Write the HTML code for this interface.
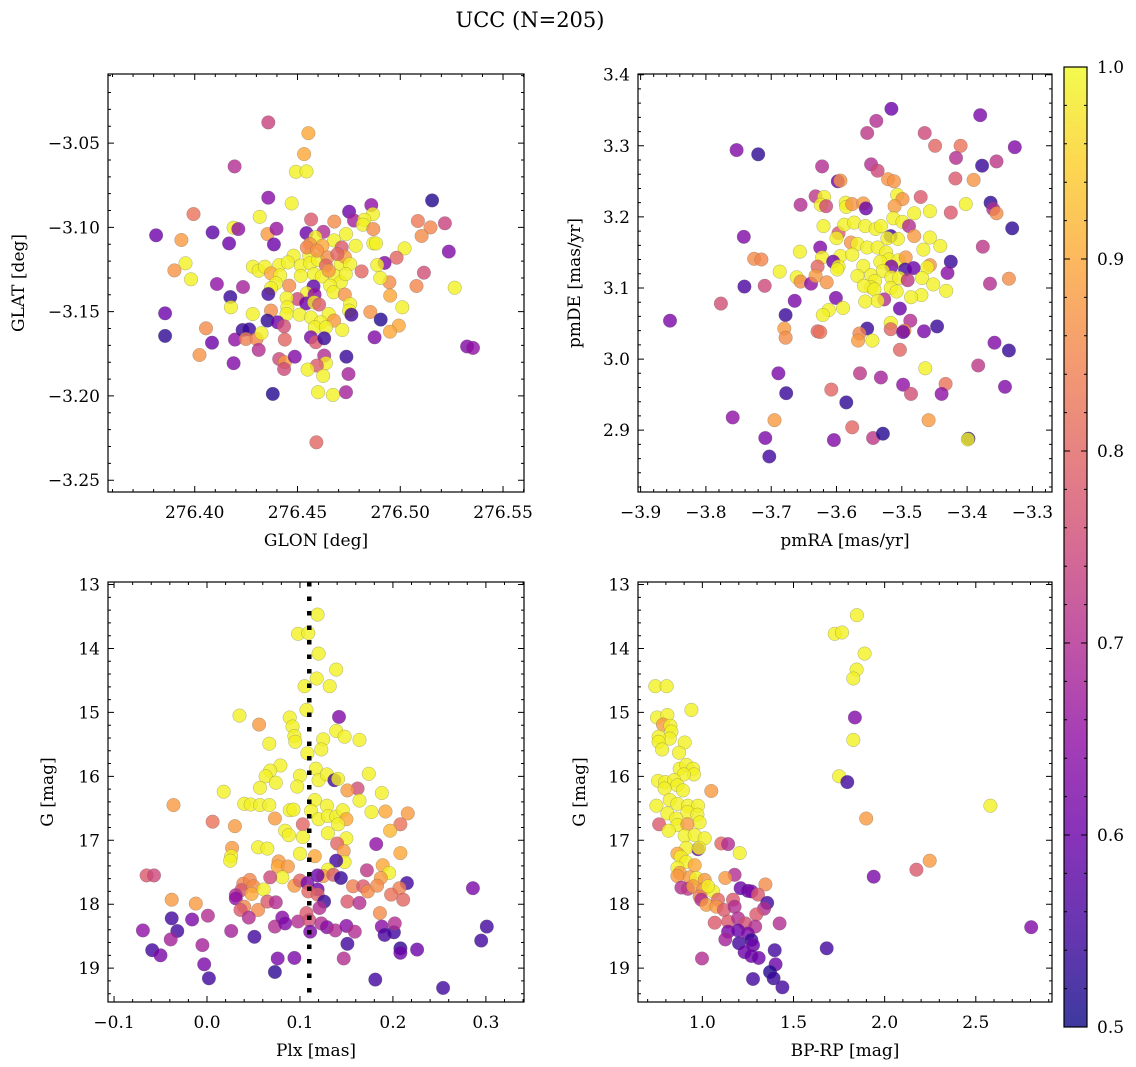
<!DOCTYPE html>
<html><head><meta charset="utf-8"><title>UCC (N=205)</title>
<style>
html,body{margin:0;padding:0;background:#fff;}
svg{display:block;font-family:"DejaVu Serif","Liberation Serif",serif;}
</style></head>
<body>
<svg id="fig" width="1136" height="1067" viewBox="0 0 1136 1067">
<text x="530" y="27" font-size="21" text-anchor="middle">UCC (N=205)</text>
</svg>
<script>
// ---------- Panel 1: GLON vs GLAT ----------
const p1Glon=[276.4358,276.4553,276.4532,276.4492,276.4544,276.4194,276.4358,276.4472,276.5155,276.3994,276.4316,276.4859,276.4751,276.4867,276.4566,276.4679,276.4775,276.4825,276.4818,276.5086,276.5217,276.5147,276.5104,276.3812,276.3935,276.4087,276.4189,276.4212,276.4167,276.4354,276.4398,276.4385,276.4544,276.4626,276.4587,276.4869,276.4869,276.4882,276.4736,276.4678,276.4715,276.4783,276.4561,276.4621,276.5021,276.5236,276.4982,276.4924,276.4888,276.3955,276.3901,276.3982,276.5115,276.5079,276.5265,276.4947,276.4903,276.4951,276.5010,276.4812,276.4108,276.4235,276.4173,276.4176,276.4283,276.4311,276.4341,276.4411,276.4371,276.4416,276.4395,276.4371,276.4358,276.4460,276.4481,276.4453,276.4516,276.4557,276.4562,276.4600,276.4646,276.4638,276.4516,276.4581,276.4618,276.4681,276.4710,276.4659,276.4710,276.4730,276.4756,276.4735,276.4578,276.4545,276.4583,276.4500,276.4447,276.4451,276.4447,276.4542,276.4581,276.4605,276.4675,276.4730,276.4756,276.4751,276.4762,276.4510,276.4565,276.4652,276.4678,276.4613,276.4584,276.4638,276.4718,276.4854,276.4905,276.4993,276.4950,276.4875,276.4282,276.4371,276.4354,276.4403,276.4435,276.4438,276.3856,276.3856,276.4055,276.4084,276.4023,276.4196,276.4233,276.4265,276.4249,276.4301,276.4325,276.4311,276.4189,276.4411,276.4438,276.4435,276.4487,276.4565,276.4589,276.4630,276.4630,276.4638,276.4594,276.4549,276.4625,276.4738,276.4748,276.4600,276.4672,276.4736,276.4380,276.4592,276.5325,276.5354,276.4545,276.4595,276.4652,276.4694];
const p1Glat=[-3.0377,-3.0441,-3.0565,-3.0670,-3.0668,-3.0638,-3.0824,-3.0858,-3.0840,-3.0921,-3.0937,-3.0868,-3.0907,-3.0921,-3.0953,-3.0966,-3.0960,-3.0955,-3.0984,-3.0962,-3.0976,-3.1000,-3.1051,-3.1047,-3.1075,-3.1030,-3.1002,-3.1010,-3.1095,-3.1040,-3.1008,-3.1101,-3.1034,-3.1026,-3.1059,-3.1010,-3.1095,-3.1095,-3.1040,-3.1077,-3.1119,-3.1109,-3.1099,-3.1109,-3.1125,-3.1144,-3.1180,-3.1211,-3.1223,-3.1213,-3.1255,-3.1308,-3.1269,-3.1348,-3.1358,-3.1326,-3.1300,-3.1405,-3.1474,-3.1261,-3.1336,-3.1354,-3.1413,-3.1474,-3.1233,-3.1257,-3.1233,-3.1223,-3.1273,-3.1285,-3.1332,-3.1360,-3.1395,-3.1346,-3.1168,-3.1208,-3.1227,-3.1168,-3.1213,-3.1194,-3.1178,-3.1227,-3.1287,-3.1277,-3.1291,-3.1287,-3.1326,-3.1346,-3.1217,-3.1174,-3.1217,-3.1277,-3.1350,-3.1391,-3.1399,-3.1425,-3.1419,-3.1474,-3.1514,-3.1451,-3.1445,-3.1458,-3.1385,-3.1399,-3.1455,-3.1494,-3.1518,-3.1518,-3.1534,-3.1514,-3.1553,-3.1563,-3.1593,-3.1593,-3.1609,-3.1502,-3.1547,-3.1583,-3.1619,-3.1652,-3.1514,-3.1494,-3.1553,-3.1563,-3.1587,-3.1666,-3.1510,-3.1644,-3.1599,-3.1684,-3.1757,-3.1666,-3.1609,-3.1605,-3.1662,-3.1662,-3.1628,-3.1727,-3.1806,-3.1781,-3.1800,-3.1840,-3.1767,-3.1652,-3.1681,-3.1658,-3.1761,-3.1806,-3.1820,-3.1844,-3.1881,-3.1767,-3.1870,-3.1978,-3.1994,-3.1978,-3.1988,-3.2275,-3.1707,-3.1715,-3.1119,-3.1138,-3.1257,-3.1158];
const p1Prob=[0.74,0.9,0.9,0.99,0.99,0.7,0.64,0.99,0.52,0.82,0.99,0.65,0.6,0.99,0.78,0.86,0.68,0.99,0.99,0.83,0.74,0.85,0.86,0.6,0.88,0.58,0.99,0.65,0.6,0.88,0.66,0.6,0.6,0.7,0.99,0.86,0.99,0.99,0.99,0.99,0.78,0.99,0.87,0.9,0.99,0.63,0.8,0.63,0.99,0.99,0.87,0.99,0.76,0.85,0.99,0.86,0.99,0.9,0.99,0.8,0.65,0.68,0.54,0.99,0.99,0.99,0.99,0.99,0.9,0.99,0.99,0.99,0.55,0.86,0.99,0.99,0.99,0.99,0.99,0.99,0.86,0.8,0.99,0.99,0.99,0.99,0.99,0.99,0.99,0.88,0.99,0.99,0.58,0.99,0.65,0.75,0.99,0.99,0.99,0.6,0.99,0.78,0.99,0.87,0.99,0.99,0.55,0.99,0.99,0.99,0.88,0.99,0.99,0.99,0.99,0.87,0.52,0.9,0.9,0.63,0.99,0.86,0.53,0.6,0.76,0.8,0.6,0.53,0.86,0.6,0.87,0.65,0.54,0.54,0.84,0.85,0.99,0.7,0.63,0.75,0.88,0.75,0.63,0.62,0.78,0.54,0.7,0.99,0.78,0.99,0.99,0.54,0.68,0.99,0.99,0.68,0.52,0.8,0.63,0.65,0.85,0.87,0.88,0.8];
const p1XTicks=[276.40,276.45,276.50,276.55];
const p1YTicks=[-3.05,-3.10,-3.15,-3.20,-3.25];

// ---------- Panel 2: pmRA vs pmDE ----------
const p2Pmra=[-3.516,-3.380,-3.539,-3.553,-3.465,-3.449,-3.410,-3.327,-3.753,-3.720,-3.417,-3.377,-3.355,-3.622,-3.547,-3.537,-3.418,-3.390,-3.598,-3.594,-3.521,-3.512,-3.655,-3.632,-3.619,-3.624,-3.616,-3.586,-3.585,-3.576,-3.559,-3.555,-3.507,-3.499,-3.471,-3.511,-3.402,-3.364,-3.360,-3.355,-3.425,-3.457,-3.481,-3.513,-3.499,-3.489,-3.331,-3.620,-3.742,-3.597,-3.600,-3.588,-3.573,-3.556,-3.540,-3.532,-3.517,-3.522,-3.506,-3.481,-3.457,-3.441,-3.467,-3.376,-3.578,-3.568,-3.553,-3.537,-3.625,-3.656,-3.622,-3.594,-3.576,-3.524,-3.520,-3.533,-3.505,-3.494,-3.726,-3.715,-3.605,-3.597,-3.599,-3.425,-3.516,-3.495,-3.482,-3.457,-3.461,-3.430,-3.336,-3.365,-3.629,-3.687,-3.661,-3.655,-3.639,-3.632,-3.615,-3.559,-3.568,-3.547,-3.529,-3.516,-3.504,-3.491,-3.469,-3.452,-3.432,-3.470,-3.486,-3.517,-3.508,-3.541,-3.547,-3.558,-3.542,-3.527,-3.537,-3.556,-3.741,-3.710,-3.777,-3.855,-3.664,-3.601,-3.590,-3.612,-3.621,-3.678,-3.680,-3.678,-3.503,-3.487,-3.517,-3.517,-3.553,-3.565,-3.567,-3.545,-3.629,-3.625,-3.496,-3.498,-3.466,-3.446,-3.503,-3.358,-3.336,-3.464,-3.383,-3.689,-3.677,-3.564,-3.532,-3.498,-3.486,-3.433,-3.439,-3.342,-3.608,-3.585,-3.459,-3.759,-3.695,-3.576,-3.544,-3.529,-3.398,-3.399,-3.709,-3.604,-3.703];
const p2Pmde=[3.352,3.343,3.335,3.318,3.318,3.300,3.300,3.298,3.294,3.288,3.283,3.272,3.278,3.271,3.274,3.265,3.254,3.252,3.250,3.251,3.253,3.250,3.217,3.229,3.228,3.217,3.215,3.220,3.214,3.218,3.219,3.212,3.231,3.225,3.228,3.215,3.218,3.220,3.211,3.205,3.206,3.208,3.205,3.198,3.193,3.187,3.184,3.187,3.172,3.177,3.170,3.189,3.192,3.187,3.183,3.187,3.173,3.170,3.169,3.173,3.171,3.159,3.154,3.158,3.164,3.162,3.157,3.157,3.157,3.151,3.143,3.145,3.147,3.150,3.140,3.137,3.139,3.143,3.141,3.140,3.137,3.130,3.126,3.137,3.130,3.126,3.128,3.132,3.129,3.121,3.113,3.106,3.130,3.123,3.115,3.109,3.106,3.117,3.108,3.131,3.117,3.118,3.124,3.115,3.114,3.111,3.114,3.105,3.096,3.090,3.087,3.100,3.095,3.110,3.101,3.103,3.098,3.084,3.082,3.081,3.102,3.103,3.078,3.054,3.082,3.086,3.072,3.069,3.062,3.062,3.043,3.030,3.071,3.054,3.051,3.042,3.043,3.036,3.026,3.026,3.039,3.038,3.040,3.038,3.039,3.046,3.013,3.023,3.012,2.987,2.991,2.980,2.952,2.980,2.974,2.964,2.951,2.965,2.951,2.961,2.957,2.939,2.914,2.918,2.914,2.904,2.889,2.895,2.888,2.887,2.889,2.886,2.863];
const p2Prob=[0.6,0.62,0.7,0.72,0.75,0.8,0.82,0.63,0.63,0.53,0.7,0.54,0.72,0.7,0.7,0.75,0.78,0.87,0.6,0.87,0.87,0.87,0.7,0.72,0.99,0.99,0.75,0.99,0.99,0.87,0.88,0.6,0.99,0.87,0.78,0.88,0.99,0.53,0.7,0.86,0.78,0.99,0.99,0.99,0.99,0.7,0.53,0.99,0.63,0.78,0.99,0.99,0.99,0.99,0.99,0.99,0.55,0.99,0.99,0.88,0.99,0.99,0.99,0.72,0.87,0.99,0.99,0.99,0.63,0.99,0.99,0.99,0.99,0.99,0.99,0.99,0.99,0.88,0.86,0.85,0.6,0.99,0.99,0.54,0.62,0.55,0.6,0.87,0.99,0.64,0.86,0.7,0.8,0.99,0.99,0.86,0.65,0.88,0.87,0.99,0.99,0.99,0.99,0.99,0.99,0.72,0.99,0.99,0.99,0.99,0.99,0.99,0.99,0.99,0.99,0.99,0.99,0.7,0.99,0.99,0.56,0.75,0.76,0.62,0.62,0.62,0.99,0.99,0.99,0.54,0.88,0.86,0.6,0.7,0.99,0.8,0.54,0.85,0.88,0.99,0.8,0.82,0.86,0.6,0.62,0.54,0.8,0.63,0.54,0.99,0.72,0.62,0.54,0.72,0.68,0.65,0.76,0.82,0.65,0.63,0.8,0.53,0.88,0.65,0.88,0.8,0.72,0.52,0.52,0.99,0.62,0.63,0.55];
const p2XTicks=[-3.9,-3.8,-3.7,-3.6,-3.5,-3.4,-3.3];
const p2YTicks=[2.9,3.0,3.1,3.2,3.3,3.4];

// ---------- Panel 3: Plx vs G ----------
const p3Plx=[0.119,0.098,0.109,0.120,0.139,0.118,0.105,0.132,0.107,0.142,0.035,0.056,0.089,0.092,0.094,0.095,0.139,0.148,0.164,0.125,0.123,0.067,0.108,0.079,0.068,0.063,0.074,0.057,0.100,0.097,0.117,0.120,0.129,0.137,0.141,0.174,0.162,0.151,0.188,0.018,-0.036,0.040,0.047,0.057,0.067,0.089,0.093,0.116,0.129,0.112,0.120,0.130,0.139,0.146,0.150,0.141,0.164,0.177,0.192,0.216,0.208,0.197,0.006,0.030,0.073,0.103,0.084,0.088,0.103,0.130,0.150,0.140,0.147,0.148,0.139,0.182,0.208,0.055,0.065,0.027,0.026,0.025,0.100,0.116,0.077,0.076,0.087,0.081,0.068,0.130,0.125,0.119,0.136,0.144,0.172,0.189,0.196,0.187,-0.065,-0.057,0.039,0.046,0.037,0.050,0.048,0.061,0.031,0.031,0.094,0.100,0.108,0.119,0.109,0.119,0.126,0.121,0.157,0.168,0.173,0.183,0.215,0.207,0.198,0.211,0.151,0.164,0.186,0.286,-0.038,-0.012,0.040,0.055,0.065,0.074,0.036,0.045,-0.038,-0.016,0.001,-0.069,-0.032,-0.039,0.026,0.051,0.073,0.081,0.084,0.098,0.107,0.110,0.111,0.123,0.129,0.138,0.150,0.159,0.188,0.191,0.201,0.202,0.151,0.208,0.208,0.226,0.295,0.301,-0.059,-0.050,-0.005,-0.003,0.002,0.076,0.094,0.073,0.147,0.181,0.254];
const p3G=[13.47,13.77,13.76,14.08,14.33,14.47,14.59,14.59,14.96,15.07,15.05,15.19,15.08,15.22,15.37,15.46,15.29,15.38,15.43,15.42,15.58,15.49,15.64,15.83,15.91,16.00,16.10,16.18,15.99,16.16,15.88,16.06,15.97,16.06,16.04,15.96,16.19,16.22,16.26,16.24,16.45,16.43,16.44,16.45,16.45,16.53,16.52,16.37,16.46,16.54,16.67,16.62,16.63,16.53,16.67,16.75,16.38,16.56,16.55,16.58,16.75,16.85,16.71,16.78,16.66,16.75,16.85,16.92,16.95,16.89,16.97,17.05,17.17,17.34,17.32,17.06,17.20,17.11,17.13,17.12,17.25,17.32,17.21,17.25,17.33,17.41,17.41,17.58,17.58,17.46,17.56,17.55,17.54,17.59,17.47,17.39,17.51,17.59,17.55,17.55,17.68,17.62,17.78,17.72,17.84,17.77,17.86,17.91,17.71,17.63,17.67,17.77,17.80,17.85,17.96,18.06,17.72,17.72,17.80,17.71,17.67,17.75,17.85,17.93,17.96,17.98,18.14,17.75,17.93,17.99,18.04,18.09,17.96,17.97,18.09,18.21,18.22,18.24,18.18,18.41,18.42,18.55,18.42,18.51,18.35,18.21,18.30,18.27,18.14,18.25,18.43,18.30,18.36,18.41,18.34,18.43,18.35,18.48,18.44,18.30,18.62,18.69,18.76,18.71,18.57,18.35,18.72,18.80,18.64,18.94,19.16,18.85,18.84,19.06,18.85,19.18,19.31];
const p3Prob=[0.99,0.99,0.99,0.99,0.99,0.99,0.99,0.99,0.99,0.63,0.99,0.88,0.99,0.99,0.99,0.99,0.99,0.99,0.99,0.99,0.99,0.99,0.99,0.99,0.99,0.99,0.99,0.99,0.99,0.99,0.99,0.99,0.99,0.55,0.99,0.99,0.76,0.88,0.99,0.99,0.88,0.99,0.99,0.99,0.99,0.99,0.99,0.99,0.99,0.99,0.99,0.99,0.99,0.99,0.9,0.99,0.99,0.99,0.9,0.88,0.82,0.92,0.82,0.88,0.88,0.8,0.99,0.99,0.99,0.99,0.99,0.8,0.88,0.99,0.55,0.65,0.9,0.99,0.99,0.88,0.99,0.99,0.99,0.9,0.88,0.9,0.88,0.99,0.75,0.99,0.88,0.6,0.78,0.54,0.72,0.9,0.99,0.88,0.78,0.75,0.85,0.85,0.78,0.86,0.9,0.99,0.7,0.65,0.88,0.8,0.62,0.6,0.8,0.8,0.54,0.7,0.84,0.78,0.86,0.86,0.55,0.84,0.82,0.8,0.78,0.7,0.86,0.62,0.88,0.88,0.85,0.86,0.78,0.7,0.78,0.7,0.55,0.62,0.7,0.65,0.55,0.68,0.68,0.55,0.7,0.64,0.63,0.7,0.78,0.76,0.62,0.7,0.64,0.7,0.64,0.7,0.64,0.56,0.55,0.7,0.55,0.53,0.6,0.6,0.55,0.55,0.55,0.62,0.68,0.62,0.55,0.62,0.62,0.53,0.7,0.55,0.55];
const p3XTicks=[-0.1,0.0,0.1,0.2,0.3];
const p3YTicks=[13,14,15,16,17,18,19];
const p3PlxMedian=[0.110];

// ---------- Panel 4: BP-RP vs G ----------
const p4Bprp=[1.848,1.726,1.766,1.890,1.846,1.828,0.742,0.804,0.940,1.837,0.751,0.808,0.784,0.825,0.830,0.821,0.760,0.760,0.779,0.903,0.872,1.828,0.876,0.912,0.949,0.954,0.898,0.757,0.797,0.845,0.863,0.793,0.894,1.750,1.795,1.049,0.821,0.863,0.921,0.976,0.748,0.808,0.918,0.973,0.857,2.580,0.763,0.863,0.985,0.918,0.815,0.903,0.958,1.013,1.899,1.104,1.141,1.205,0.976,0.982,0.912,0.863,0.881,0.912,0.958,0.863,0.876,0.863,0.931,0.967,1.013,1.177,1.126,2.247,2.174,1.940,0.885,0.921,0.949,1.004,1.059,1.031,0.985,0.994,1.022,1.086,1.077,1.119,1.168,1.177,1.210,1.250,1.269,1.346,1.305,1.356,1.338,1.296,1.068,1.141,1.196,1.236,1.290,1.424,1.141,1.196,1.250,1.126,1.201,1.269,1.278,1.232,1.269,1.309,1.397,1.402,1.371,1.391,1.278,1.439,1.682,0.998,2.804];
const p4G=[13.48,13.77,13.75,14.08,14.33,14.47,14.59,14.59,14.96,15.08,15.08,15.04,15.19,15.21,15.30,15.41,15.38,15.46,15.58,15.47,15.63,15.43,15.88,15.82,15.88,15.97,15.97,16.07,16.09,16.06,16.14,16.19,16.22,16.00,16.09,16.23,16.37,16.43,16.46,16.46,16.46,16.58,16.56,16.60,16.66,16.46,16.75,16.76,16.72,16.75,16.85,16.93,16.92,16.97,16.66,17.05,17.06,17.20,17.14,17.12,17.12,17.21,17.26,17.34,17.39,17.43,17.51,17.56,17.58,17.59,17.62,17.54,17.59,17.32,17.46,17.57,17.74,17.76,17.72,17.77,17.80,17.72,17.88,17.93,18.01,17.93,18.04,18.09,17.93,18.04,17.75,17.79,17.80,17.69,17.85,17.98,18.07,18.16,18.29,18.27,18.22,18.30,18.35,18.30,18.43,18.41,18.46,18.55,18.61,18.56,18.64,18.75,18.81,18.84,18.72,18.94,19.06,19.16,19.17,19.30,18.69,18.85,18.36];
const p4Prob=[0.99,0.99,0.99,0.99,0.99,0.99,0.99,0.99,0.99,0.63,0.99,0.99,0.88,0.99,0.99,0.99,0.99,0.99,0.99,0.99,0.99,0.99,0.99,0.99,0.99,0.99,0.99,0.99,0.99,0.99,0.99,0.99,0.99,0.99,0.55,0.88,0.99,0.99,0.99,0.99,0.99,0.99,0.99,0.99,0.99,0.99,0.78,0.99,0.99,0.88,0.99,0.99,0.99,0.99,0.88,0.8,0.7,0.99,0.6,0.99,0.99,0.9,0.99,0.99,0.9,0.99,0.88,0.88,0.88,0.99,0.88,0.7,0.88,0.88,0.78,0.62,0.7,0.72,0.88,0.88,0.99,0.99,0.84,0.7,0.88,0.8,0.88,0.78,0.78,0.7,0.6,0.6,0.62,0.86,0.78,0.55,0.7,0.78,0.78,0.78,0.7,0.76,0.7,0.7,0.62,0.6,0.62,0.68,0.55,0.54,0.6,0.6,0.6,0.6,0.55,0.6,0.52,0.54,0.55,0.55,0.55,0.7,0.63];
const p4XTicks=[1.0,1.5,2.0,2.5];
const p4YTicks=[13,14,15,16,17,18,19];

// ---------- Colorbar ----------
const cbTicks=[0.5,0.6,0.7,0.8,0.9,1.0];
const cbMin=0.5, cbMax=1.0;

const NS="http://www.w3.org/2000/svg";
const fig=document.getElementById('fig');
const plasmaStops=["#0d0887","#41049d","#6a00a8","#8f0da4","#b12a90","#cc4778","#e16462","#f2844b","#fca636","#fcce25","#f0f921"];
function hexRgb(h){return [parseInt(h.slice(1,3),16),parseInt(h.slice(3,5),16),parseInt(h.slice(5,7),16)];}
function plasma(v){
  let t=(v-cbMin)/(cbMax-cbMin); t=Math.max(0,Math.min(1,t));
  const f=t*10, i=Math.min(9,Math.floor(f)), r=f-i;
  const a=hexRgb(plasmaStops[i]), b=hexRgb(plasmaStops[i+1]);
  return 'rgb('+a.map((c,k)=>Math.round(c+(b[k]-c)*r)).join(',')+')';
}
function mk(tag,attrs,parent){const e=document.createElementNS(NS,tag);for(const k in attrs)e.setAttribute(k,attrs[k]);(parent||fig).appendChild(e);return e;}
function fmt(v,d){const s=Math.abs(v).toFixed(d);return (v<-1e-9?'\u2212':'')+s;}
const FS=17;

function panel(o){
  const g=mk('g',{});
  
  
  const sx=v=>o.x0+(v-o.xmin)/(o.xmax-o.xmin)*(o.x1-o.x0);
  const sy=o.invert? (v=>o.y0+(v-o.ymin)/(o.ymax-o.ymin)*(o.y1-o.y0)) : (v=>o.y1-(v-o.ymin)/(o.ymax-o.ymin)*(o.y1-o.y0));
  const pg=mk('g',{},g);
  
  
  for(let i=0;i<o.xs.length;i++){
    const c=mk('circle',{cx:sx(o.xs[i]).toFixed(1),cy:sy(o.ys[i]).toFixed(1),r:6.8,fill:plasma(o.cs[i]),'fill-opacity':0.8,stroke:'#666','stroke-opacity':0.5,'stroke-width':0.5},pg);
    
    
  }
  if(o.vline!==undefined){
    const l=mk('line',{x1:sx(o.vline),x2:sx(o.vline),y1:o.y0,y2:o.y1,stroke:'#000','stroke-width':4.5,'stroke-dasharray':'4.5 10'},g);
    
    
  }
  const fr=mk('rect',{x:o.x0,y:o.y0,width:o.x1-o.x0,height:o.y1-o.y0,fill:'none',stroke:'#000','stroke-width':1.2},g);
  
  
  let d='';
  const isMajor=(v,arr)=>arr.some(a=>Math.abs(a-v)<1e-7);
  for(let k=Math.ceil(o.xmin/o.xminor-1e-9);k*o.xminor<=o.xmax+1e-9;k++){
    const v=k*o.xminor, x=sx(v), L=isMajor(v,o.xticks)?6:3;
    d+=`M${x} ${o.y1}v${-L}M${x} ${o.y0}v${L}`;
  }
  for(let k=Math.ceil(o.ymin/o.yminor-1e-9);k*o.yminor<=o.ymax+1e-9;k++){
    const v=k*o.yminor, y=sy(v), L=isMajor(v,o.yticks)?6:3;
    d+=`M${o.x0} ${y}h${L}M${o.x1} ${y}h${-L}`;
  }
  mk('path',{d:d,stroke:'#000','stroke-width':1,fill:'none'},g);
  o.xticks.forEach(v=>{
    const t=mk('text',{x:sx(v),y:o.y1+26,'font-size':FS,'text-anchor':'middle'},g);
    t.textContent=fmt(v,o.xd);
    
    
  });
  o.yticks.forEach(v=>{
    const t=mk('text',{x:o.x0-8,y:sy(v)+6,'font-size':FS,'text-anchor':'end'},g);
    t.textContent=fmt(v,o.yd);
    
    
  });
  const xl=mk('text',{x:(o.x0+o.x1)/2,y:o.y1+54,'font-size':FS,'text-anchor':'middle'},g);
  xl.textContent=o.xlabel;
  
  
  const yl=mk('text',{x:0,y:0,'font-size':FS,'text-anchor':'middle',transform:`translate(${o.ylx},${(o.y0+o.y1)/2}) rotate(-90)`},g);
  yl.textContent=o.ylabel;
  
  
}

panel({name:'glon-glat-panel',x0:108,x1:524,y0:74,y1:492,xmin:276.3578,xmax:276.5602,ymin:-3.257,ymax:-3.009,
  xs:p1Glon,ys:p1Glat,cs:p1Prob,xticks:p1XTicks,yticks:p1YTicks,xminor:0.01,yminor:0.01,xd:2,yd:2,
  xlabel:'GLON [deg]',ylabel:'GLAT [deg]',ylx:24});
panel({name:'pm-panel',x0:638,x1:1052,y0:74,y1:492,xmin:-3.904,xmax:-3.270,ymin:2.813,ymax:3.401,
  xs:p2Pmra,ys:p2Pmde,cs:p2Prob,xticks:p2XTicks,yticks:p2YTicks,xminor:0.02,yminor:0.02,xd:1,yd:1,
  xlabel:'pmRA [mas/yr]',ylabel:'pmDE [mas/yr]',ylx:580});
panel({name:'plx-g-panel',x0:108,x1:524,y0:582,y1:1002,xmin:-0.1065,xmax:0.341,ymin:12.96,ymax:19.53,invert:true,
  xs:p3Plx,ys:p3G,cs:p3Prob,xticks:p3XTicks,yticks:p3YTicks,xminor:0.02,yminor:0.2,xd:1,yd:0,vline:p3PlxMedian[0],
  xlabel:'Plx [mas]',ylabel:'G [mag]',ylx:53});
panel({name:'cmd-panel',x0:638,x1:1052,y0:582,y1:1002,xmin:0.647,xmax:2.918,ymin:12.96,ymax:19.53,invert:true,
  xs:p4Bprp,ys:p4G,cs:p4Prob,xticks:p4XTicks,yticks:p4YTicks,xminor:0.1,yminor:0.2,xd:1,yd:0,
  xlabel:'BP-RP [mag]',ylabel:'G [mag]',ylx:585});

(function(){
  const x0=1064,x1=1087,y0=67,y1=1027;
  const g=mk('g',{});
  
  
  const defs=mk('defs',{},g);
  const lg=mk('linearGradient',{id:'plasmaGrad',x1:0,y1:1,x2:0,y2:0},defs);
  plasmaStops.forEach((c,i)=>mk('stop',{offset:(i/10),'stop-color':c},lg));
  mk('rect',{x:x0,y:y0,width:x1-x0,height:y1-y0,fill:'url(#plasmaGrad)','fill-opacity':0.8},g);
  mk('rect',{x:x0,y:y0,width:x1-x0,height:y1-y0,fill:'none',stroke:'#000','stroke-width':1.2},g);
  const sy=v=>y1-(v-cbMin)/(cbMax-cbMin)*(y1-y0);
  let d='';
  for(let k=25;k<=50;k++){const v=k*0.02;const y=sy(v);const maj=cbTicks.some(t=>Math.abs(t-v)<1e-7);d+=`M${x1} ${y}h${maj?-6:-3}M${x0} ${y}h${maj?6:3}`;}
  mk('path',{d:d,stroke:'#000','stroke-width':1},g);
  cbTicks.forEach(v=>{
    const t=mk('text',{x:x1+10,y:sy(v)+6,'font-size':FS},g);
    t.textContent=v.toFixed(1);
    
    
  });
})();
</script>
</body></html>
